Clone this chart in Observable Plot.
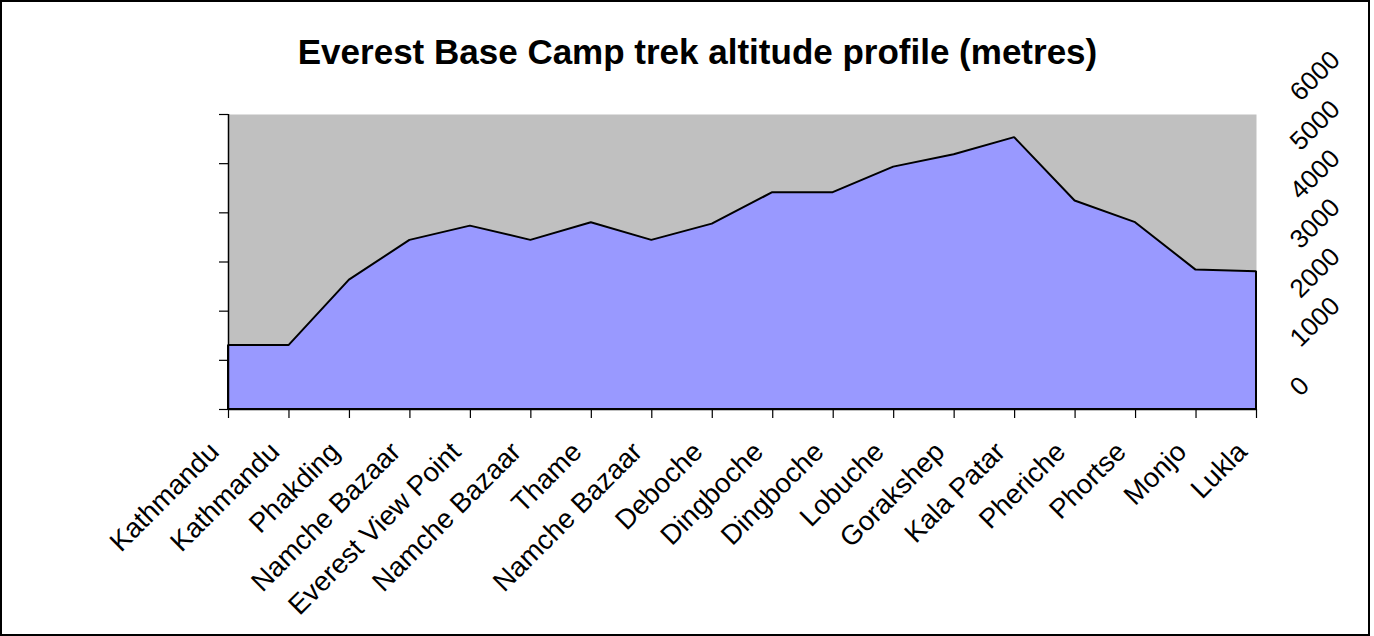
<!DOCTYPE html>
<html>
<head>
<meta charset="utf-8">
<script src="https://cdn.jsdelivr.net/npm/d3@7"></script>
<script src="https://cdn.jsdelivr.net/npm/@observablehq/plot@0.6"></script>
<style>
  html, body { margin: 0; padding: 0; background: #fff; }
  #wrap { position: relative; width: 1374px; height: 636px; overflow: hidden; font-family: "Liberation Sans", Arial, sans-serif; }
  #frame { position: absolute; left: 0; top: 0; width: 1370px; height: 636px; box-sizing: border-box; border: 2px solid #000; pointer-events: none; }
  #title { position: absolute; left: 697.5px; top: 34px; transform: translateX(-50%); font-size: 35px; line-height: 35px; font-weight: bold; white-space: nowrap; color: #000; }
  #chart { position: absolute; left: 0; top: 0; }
</style>
</head>
<body>
<div id="wrap">
  <div id="chart"></div>
  <div id="title">Everest Base Camp trek altitude profile (metres)</div>
  <div id="frame"></div>
</div>
<script>
const stops = ["Kathmandu","Kathmandu","Phakding","Namche Bazaar","Everest View Point","Namche Bazaar","Thame","Namche Bazaar","Deboche","Dingboche","Dingboche","Lobuche","Gorakshep","Kala Patar","Pheriche","Phortse","Monjo","Lukla"];
const altitudes = [1300,1300,2630,3440,3730,3440,3800,3440,3770,4410,4410,4930,5180,5530,4240,3800,2835,2800];
const yTicks = [0,1000,2000,3000,4000,5000,6000];

const data = stops.map((name, i) => ({i, name, alt: altitudes[i]}));
const idx = data.map(d => d.i);

const plot = Plot.plot({
  width: 1374,
  height: 636,
  marginLeft: 228,
  marginRight: 118,
  marginTop: 114,
  marginBottom: 227,
  style: {fontFamily: '"Liberation Sans", Arial, sans-serif', background: "transparent", color: "#000"},
  x: {type: "linear", domain: [0, stops.length - 1], axis: null},
  y: {domain: [0, 6000], axis: null},
  marks: [
    Plot.frame({fill: "#C0C0C0", stroke: null}),
    Plot.areaY(data, {x: "i", y: "alt", fill: "#9999FF", stroke: "#000", strokeWidth: 2, strokeLinejoin: "miter"}),
    Plot.ruleX([0], {stroke: "#000", strokeWidth: 1.5}),
    Plot.ruleY([0], {stroke: "#000", strokeWidth: 1.5}),
    Plot.axisY({ticks: yTicks, tickSize: 9, tickFormat: () => "", label: null, anchor: "left", stroke: "#000", strokeWidth: 1.2}),
    Plot.axisX({ticks: idx, tickSize: 9, tickFormat: () => "", label: null, anchor: "bottom", stroke: "#000", strokeWidth: 1.2}),
    Plot.text(data, {x: "i", y: () => 0, text: "name", rotate: -45, textAnchor: "end", lineAnchor: "bottom", dx: -8, dy: 44, fontSize: 27.5, fill: "#000"}),
    Plot.text(yTicks, {y: d => d, text: d => String(d), frameAnchor: "right", dx: 44, dy: -12, rotate: -45, textAnchor: "start", lineAnchor: "bottom", fontSize: 26, fill: "#000"})
  ]
});
document.getElementById("chart").appendChild(plot);
</script>
</body>
</html>
